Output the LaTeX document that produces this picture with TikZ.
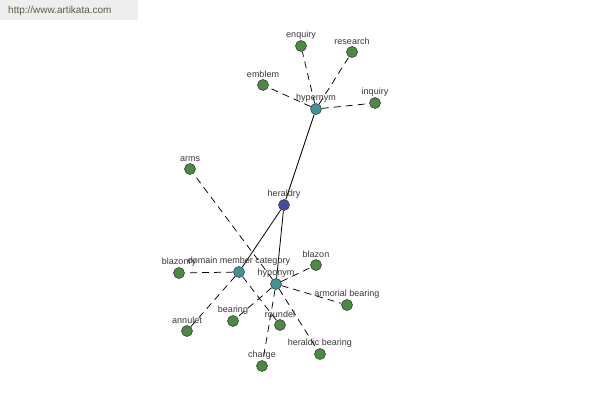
\documentclass[tikz,border=0pt]{standalone}
\usepackage{fontspec}
\setmainfont{Liberation Sans}
\usetikzlibrary{backgrounds}
\definecolor{leafgreen}{RGB}{72,140,62}
\definecolor{relteal}{RGB}{62,148,150}
\definecolor{rootblue}{RGB}{72,72,160}
\definecolor{labelgray}{RGB}{55,55,55}
\definecolor{headbg}{RGB}{238,238,238}
\definecolor{headtext}{RGB}{84,96,64}
\begin{document}
\begin{tikzpicture}[x=1pt,y=-1pt,
  dot/.style={circle,draw=black!75,line width=0.6pt,minimum size=11pt,inner sep=0pt,
    label={[lbl]above:#1}},
  leaf/.style={dot=#1,fill=leafgreen},
  rel/.style={dot=#1,fill=relteal},
  root/.style={dot=#1,fill=rootblue},
  lbl/.style={font=\fontsize{9}{10}\selectfont,text=labelgray,inner sep=1pt,label distance=0pt},
  dashedge/.style={draw=black,line width=0.75pt,dash pattern=on 7pt off 5pt},
  solidedge/.style={draw=black,line width=0.8pt}]
\useasboundingbox (0,0) rectangle (600,400);
\fill[headbg] (0,0) rectangle (138,20);
\node[anchor=west,text=headtext,font=\fontsize{10}{11}\selectfont,inner sep=0pt] (url) at (8,10.5) {http://www.artikata.com};

\node[rel=hypernym] (hyper) at (316,109) {};
\node[leaf=enquiry] (enquiry) at (301,46) {};
\node[leaf=research] (research) at (352,52) {};
\node[leaf=emblem] (emblem) at (263,85) {};
\node[leaf=inquiry] (inquiry) at (375,103) {};
\node[root=heraldry] (heraldry) at (284,205) {};
\node[leaf=arms] (arms) at (190,169) {};
\node[rel={domain member category}] (domain) at (239,272) {};
\node[rel=hyponym] (hypo) at (276,284) {};
\node[leaf=blazonry] (blazonry) at (179,273) {};
\node[leaf=blazon] (blazon) at (316,265) {};
\node[leaf={armorial bearing}] (armorial) at (347,305) {};
\node[leaf=annulet] (annulet) at (187,331) {};
\node[leaf=bearing] (bearing) at (233,321) {};
\node[leaf=roundel] (roundel) at (280,325) {};
\node[leaf={heraldic bearing}] (heraldic) at (320,354) {};
\node[leaf=charge] (charge) at (262,366) {};

\begin{scope}[on background layer]
\draw[solidedge] (hyper) -- (heraldry);
\draw[solidedge] (heraldry) -- (domain);
\draw[solidedge] (heraldry) -- (hypo);
\draw[dashedge] (hyper) -- (enquiry);
\draw[dashedge] (hyper) -- (research);
\draw[dashedge] (hyper) -- (emblem);
\draw[dashedge] (hyper) -- (inquiry);
\draw[dashedge] (domain) -- (blazonry);
\draw[dashedge] (domain) -- (annulet);
\draw[dashedge] (domain) -- (roundel);
\draw[dashedge] (hypo) -- (arms);
\draw[dashedge] (hypo) -- (blazon);
\draw[dashedge] (hypo) -- (armorial);
\draw[dashedge] (hypo) -- (bearing);
\draw[dashedge] (hypo) -- (heraldic);
\draw[dashedge] (hypo) -- (charge);
\end{scope}
\end{tikzpicture}
\end{document}
